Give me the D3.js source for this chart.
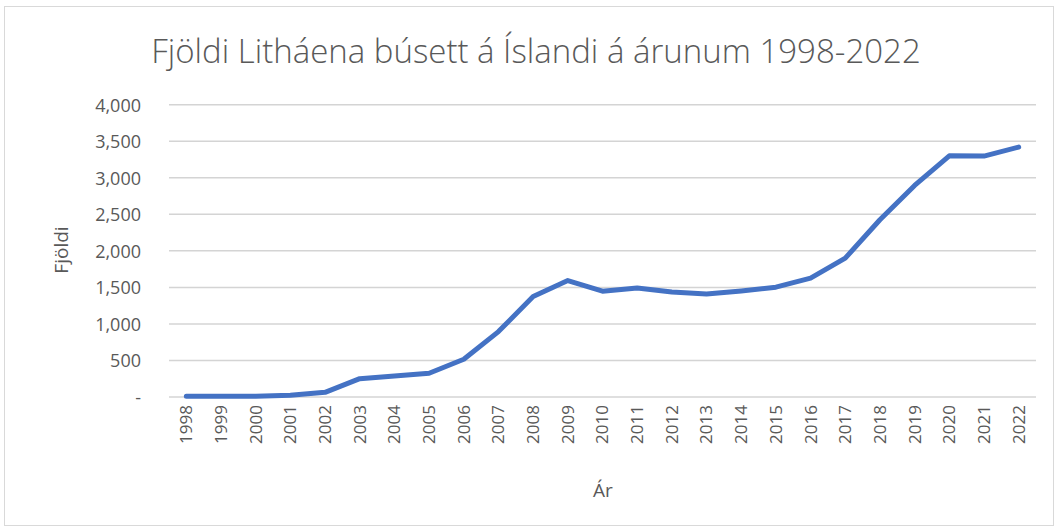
<!DOCTYPE html>
<html>
<head>
<meta charset="utf-8">
<script src="https://cdn.jsdelivr.net/npm/d3@7"></script>
<style>
  body { margin: 0; background: #fff; }
  text { font-family: "Open Sans", "Noto Sans", sans-serif; fill: #595959; }
</style>
</head>
<body>
<div id="chart"></div>
<script>
var years = ["1998","1999","2000","2001","2002","2003","2004","2005","2006","2007","2008","2009","2010",
             "2011","2012","2013","2014","2015","2016","2017","2018","2019","2020","2021","2022"];
var counts = [10, 10, 10, 25, 64, 251, 288, 325, 516, 895, 1374, 1593, 1448,
              1493, 1438, 1411, 1452, 1503, 1626, 1900, 2425, 2895, 3301, 3297, 3420];
var yTicks = [0, 500, 1000, 1500, 2000, 2500, 3000, 3500, 4000];

var w = 1059, h = 531;
var plotLeft = 169, plotRight = 1036, plotTop = 104.7, plotBottom = 397;

var svg = d3.select("#chart").append("svg")
	.attr("width", w)
	.attr("height", h);

// outer chart border
svg.append("rect")
	.attr("x", 4.5).attr("y", 6.5)
	.attr("width", w - 10).attr("height", h - 12)
	.attr("fill", "white")
	.attr("stroke", "#d9d9d9");

var x = d3.scaleBand().domain(years).range([plotLeft, plotRight]);
var y = d3.scaleLinear().domain([0, 4000]).range([plotBottom, plotTop]);

// gridlines
svg.append("g")
	.selectAll("line")
	.data(yTicks)
	.enter().append("line")
	.attr("x1", plotLeft).attr("x2", plotRight)
	.attr("y1", d => y(d)).attr("y2", d => y(d))
	.attr("stroke", "#d4d4d4")
	.attr("stroke-width", 1.5);

// y axis labels
var yAxis = d3.axisLeft(y).tickValues(yTicks).tickSize(0).tickPadding(0)
	.tickFormat(d => d == 0 ? "-" : d3.format(",")(d));
var gy = svg.append("g")
	.attr("transform", "translate(" + (plotLeft - 28) + ",0)")
	.call(yAxis);
gy.select(".domain").remove();
gy.selectAll("text")
	.attr("font-size", 18)
	.attr("font-family", "Open Sans, sans-serif")
	.attr("fill", "#595959")
	.attr("dy", "0.35em");

// x axis labels (rotated)
var gx = svg.append("g")
	.attr("transform", "translate(0," + plotBottom + ")")
	.call(d3.axisBottom(x).tickSize(0).tickPadding(0));
gx.select(".domain").remove();
gx.selectAll("text")
	.attr("font-size", 17)
	.attr("font-family", "Open Sans, sans-serif")
	.attr("fill", "#595959")
	.attr("text-anchor", "end")
	.attr("transform", "translate(0,8) rotate(-90)")
	.attr("x", 0).attr("y", 0)
	.attr("dy", "0.35em");

// line
var line = d3.line()
	.x((d, i) => x(years[i]) + x.bandwidth() / 2)
	.y(d => y(d));

svg.append("path")
	.datum(counts)
	.attr("d", line)
	.attr("fill", "none")
	.attr("stroke", "#4472c4")
	.attr("stroke-width", 5)
	.attr("stroke-linecap", "round")
	.attr("stroke-linejoin", "round");

// title
svg.append("text")
	.attr("x", 536).attr("y", 63)
	.attr("text-anchor", "middle")
	.attr("font-size", 33)
	.attr("font-weight", 300)
	.text("Fjöldi Litháena búsett á Íslandi á árunum 1998-2022");

// axis titles
svg.append("text")
	.attr("transform", "translate(68,250) rotate(-90)")
	.attr("text-anchor", "middle")
	.attr("font-size", 19)
	.text("Fjöldi");

svg.append("text")
	.attr("x", 603).attr("y", 497)
	.attr("text-anchor", "middle")
	.attr("font-size", 19)
	.text("Ár");
</script>
</body>
</html>
